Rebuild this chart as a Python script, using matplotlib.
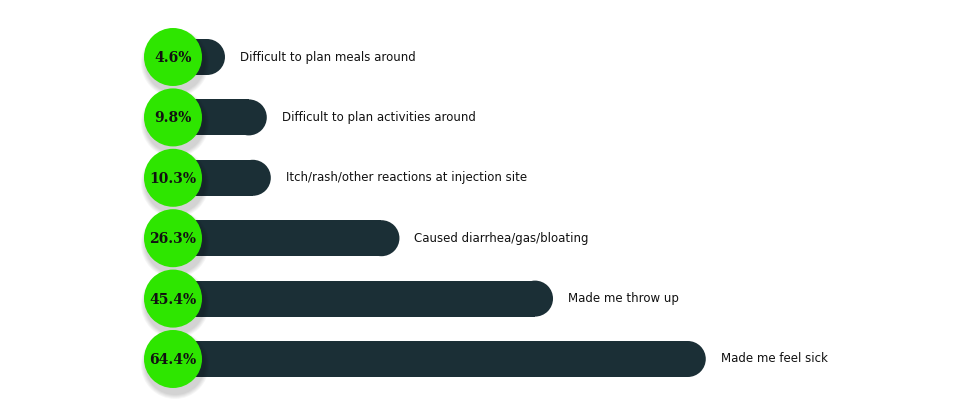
import matplotlib
matplotlib.use("Agg")
import matplotlib.pyplot as plt
from matplotlib.patches import Ellipse

labels = ["Difficult to plan meals around",
          "Difficult to plan activities around",
          "Itch/rash/other reactions at injection site",
          "Caused diarrhea/gas/bloating",
          "Made me throw up",
          "Made me feel sick"]
values = [4.6, 9.8, 10.3, 26.3, 45.4, 64.4]

bar_color = "#1b2f36"
green = "#2ee600"

# scale: pixels per percent and per row
px_x = 8.04
px_y = 60.4
W, H = 970, 416

fig = plt.figure(figsize=(W / 100, H / 100), dpi=100)
ax = fig.add_axes([0, 0, 1, 1])
ax.set_xlim(-188 / px_x, (W - 188) / px_x)
ax.set_ylim((H - 57) / px_y, -57 / px_y)
ax.axis("off")

bar_h = 36 / px_y
r_x = 18 / px_x
circ_x = -15 / px_x
circ_w = 58 / px_x
circ_h = 58 / px_y

for i, (lab, v) in enumerate(zip(labels, values)):
    # bar body + rounded end
    ax.barh(i, v - r_x + 3, left=-3, height=bar_h, color=bar_color, lw=0, zorder=2)
    ax.add_patch(Ellipse((v - r_x, i), 2 * r_x, bar_h, color=bar_color, lw=0, zorder=2))

    # soft shadow under the circle
    for k in range(5):
        ax.add_patch(Ellipse((circ_x + 2 / px_x, i + 6 / px_y),
                             circ_w + (5 - k) * 2 / px_x, circ_h + (5 - k) * 2 / px_y,
                             color="#000000", alpha=0.035, lw=0, zorder=3))
    ax.add_patch(Ellipse((circ_x, i), circ_w, circ_h, color=green, lw=0, zorder=4))
    ax.text(circ_x, i + 1 / px_y, f"{v}%", ha="center", va="center", fontsize=10,
            fontweight="bold", family="DejaVu Serif", color="#111111", zorder=5)

    ax.text(v + 15 / px_x, i, lab, ha="left", va="center", fontsize=8.5,
            family="DejaVu Sans", color="#111111")

fig.savefig("out.png", dpi=100)
